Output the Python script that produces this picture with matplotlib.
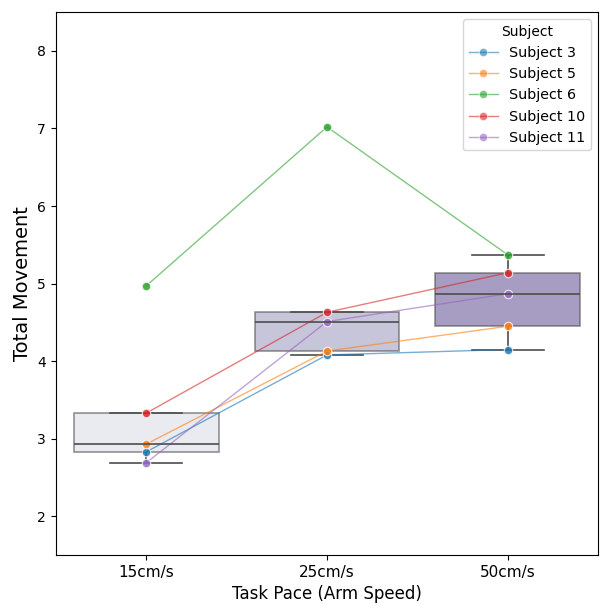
import matplotlib
matplotlib.use("Agg")
import matplotlib.pyplot as plt
import seaborn as sns
import pandas as pd

paces = ["15cm/s", "25cm/s", "50cm/s"]
subjects = ["Subject 3", "Subject 5", "Subject 6", "Subject 10", "Subject 11"]
s3 = [2.83, 4.08, 4.15]
s5 = [2.93, 4.13, 4.45]
s6 = [4.97, 7.02, 5.37]
s10 = [3.33, 4.63, 5.14]
s11 = [2.69, 4.51, 4.87]
values = [s3, s5, s6, s10, s11]

rows = []
for subj, vals in zip(subjects, values):
    for p, v in zip(paces, vals):
        rows.append({"Subject": subj, "Task Pace": p, "Total Movement": v})
df = pd.DataFrame(rows)

fig, ax = plt.subplots(figsize=(6, 6.04), dpi=100)
fig.subplots_adjust(left=0.093, right=0.997, top=0.98, bottom=0.081)

sns.boxplot(data=df, x="Task Pace", y="Total Movement", hue="Task Pace",
            palette="Purples", showfliers=False, ax=ax, legend=False,
            boxprops=dict(alpha=0.6), linecolor="0.3", linewidth=1.2)

tab = plt.get_cmap("tab10")
for i, (subj, vals) in enumerate(zip(subjects, values)):
    ax.plot(range(len(paces)), vals, marker="o", color=tab(i), alpha=0.6,
            linewidth=1, markersize=6, markeredgecolor="white",
            markeredgewidth=0.8, label=subj)
    ax.plot(range(len(paces)), vals, marker="o", linestyle="none", color=tab(i),
            alpha=0.6, markersize=6, markeredgecolor="white", markeredgewidth=0.8)

ax.set_ylim(1.5, 8.5)
ax.set_xlim(-0.5, 2.5)
ax.set_xticks(range(len(paces)))
ax.set_xticklabels(paces, fontsize=11)
ax.tick_params(axis="y", labelsize=10)
ax.set_xlabel("Task Pace (Arm Speed)", fontsize=12)
ax.set_ylabel("Total Movement", fontsize=14)
ax.legend(title="Subject", loc="upper right", fontsize=10.3, title_fontsize=10,
          labelspacing=0.5)

fig.savefig("out.png", dpi=100)
